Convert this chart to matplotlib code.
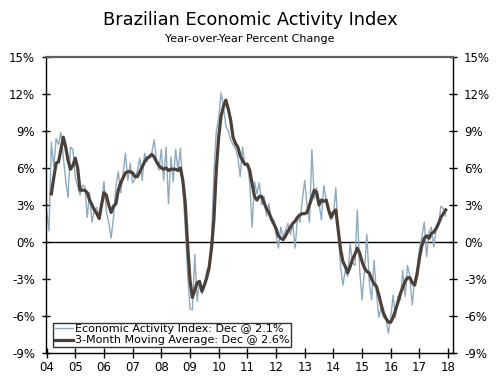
import matplotlib.pyplot as plt
import numpy as np

# monthly year-over-year % change, Jan 2004 .. Dec 2017 (one row per year)
activity = [
    2.6, 0.9, 8.1, 6.1, 8.4, 7.9, 8.9, 6.9, 5.0, 3.6, 7.7, 7.5,
    5.3, 4.5, 3.8, 4.6, 4.5, 2.0, 4.0, 1.6, 2.6, 2.8, 2.0, 3.2,
    4.9, 2.5, 1.6, 0.3, 2.0, 4.5, 5.7, 4.0, 5.5, 7.2, 5.0, 6.4,
    4.8, 5.1, 5.8, 6.8, 5.0, 7.2, 6.5, 7.0, 7.2, 8.3, 6.7, 5.8,
    7.5, 5.0, 7.7, 3.1, 6.9, 4.9, 7.5, 5.8, 7.6, 4.5, 1.2, -2.5,
    -5.4, -5.5, -1.0, -4.8, -3.1, -4.2, -3.6, -2.3, -2.0, 0.2, 5.6, 9.0,
    10.0, 12.1, 11.0, 9.4, 9.0, 8.3, 7.9, 7.6, 6.9, 5.3, 7.7, 6.2,
    6.4, 4.8, 1.2, 4.9, 3.9, 4.8, 3.0, 3.7, 2.1, 3.1, 1.8, 1.8,
    0.6, -0.5, 1.2, 0.4, 1.0, 1.5, 0.6, 1.4, -0.5, 2.1, 1.6, 3.4,
    5.0, 2.9, 1.6, 7.5, 3.5, 4.4, 3.1, 1.8, 4.6, 3.4, 2.9, 1.8,
    2.1, 4.4, 0.8, -2.0, -3.5, -2.3, -2.8, -0.1, -1.7, -1.9, 2.6, -2.3,
    -4.7, -2.3, 0.6, -3.2, -4.7, -1.5, -4.0, -6.1, -5.3, -6.1, -6.2, -7.4,
    -6.1, -4.3, -6.1, -4.4, -4.7, -2.3, -4.4, -1.9, -2.8, -5.1, -3.1, -2.3,
    -0.6, 0.4, 1.6, -1.2, 0.8, 1.2, -0.4, 1.0, 1.4, 2.9, 2.7, 2.1,
]

# 3-month moving average (starts Mar 2004)
moving_avg = [
    np.nan, np.nan, 3.9, 5.2, 6.4, 6.5, 7.5, 8.5, 7.7, 6.6, 5.9, 6.2,
    6.8, 6.0, 4.2, 4.2, 4.2, 4.0, 3.4, 3.0, 2.6, 2.3, 1.9, 3.0,
    4.0, 3.8, 3.0, 2.4, 2.9, 3.1, 4.2, 4.8, 5.2, 5.6, 5.7, 5.7,
    5.6, 5.3, 5.3, 5.7, 6.1, 6.5, 6.8, 6.9, 7.1, 6.9, 6.5, 6.2,
    6.0, 5.9, 6.0, 5.8, 5.9, 5.9, 5.9, 5.8, 6.0, 5.0, 3.2, -0.2,
    -3.1, -4.5, -3.9, -3.3, -3.2, -4.0, -3.5, -2.9, -2.1, -0.5, 1.8, 5.8,
    8.5, 10.2, 11.0, 11.5, 10.8, 9.9, 8.5, 8.0, 7.7, 7.0, 6.6, 6.3,
    6.3, 5.8, 4.7, 3.7, 3.4, 3.7, 3.7, 3.2, 2.7, 2.4, 1.9, 1.5,
    1.1, 0.5, 0.3, 0.2, 0.5, 0.9, 1.2, 1.5, 1.7, 2.0, 2.2, 2.3,
    2.3, 2.4, 3.0, 3.6, 4.2, 4.0, 3.0, 3.4, 3.3, 3.4, 2.6, 2.0,
    2.4, 2.6, 1.0, -0.6, -1.6, -2.0, -2.5, -2.0, -1.4, -1.0, -0.5, -0.9,
    -1.6, -2.1, -2.4, -2.5, -3.0, -3.4, -3.6, -4.3, -5.1, -5.8, -6.2, -6.5,
    -6.5, -6.1, -5.5, -4.9, -4.2, -3.7, -3.2, -2.9, -2.9, -3.3, -3.5, -2.6,
    -1.3, -0.3, 0.3, 0.5, 0.3, 0.7, 0.8, 1.1, 1.5, 2.0, 2.3, 2.6,
]

years = list(range(2004, 2019))
year_labels = ["%02d" % (y % 100) for y in years]
y_ticks = list(range(-9, 16, 3))

x = 2004 + np.arange(len(activity)) / 12.0

fig = plt.figure(figsize=(5, 3.76), dpi=100)
ax = fig.add_axes([0.092, 0.0612, 0.814, 0.7872])

ax.axhline(0, color="black", lw=1.0, zorder=1)
ax.plot(x, activity, color="#8eaabf", lw=1.0,
        label="Economic Activity Index: Dec @ 2.1%", zorder=2)
ax.plot(x, moving_avg, color="#4b4038", lw=2.3,
        label="3-Month Moving Average: Dec @ 2.6%", zorder=3)

ax.set_xlim(2003.98, 2018.17)
ax.set_ylim(-9, 15)
ax.set_xticks(years)
ax.set_xticklabels(year_labels)
ax.set_yticks(y_ticks)
ax.set_yticklabels(["%d%%" % v for v in y_ticks])

ax.tick_params(axis="x", direction="inout", length=7, width=1, labelsize=8.5, pad=2)
ax.tick_params(axis="y", direction="inout", length=6, width=1, labelsize=8.5,
               right=True, labelright=True, pad=5)

for side in ["left", "right", "bottom"]:
    ax.spines[side].set_color("black")
    ax.spines[side].set_linewidth(1.0)
ax.spines["top"].set_color("#606060")
ax.spines["top"].set_linewidth(1.6)

leg = ax.legend(loc="lower left", bbox_to_anchor=(0.018, 0.02), fontsize=8,
                frameon=True, fancybox=False, borderpad=0.15, labelspacing=0.1,
                handlelength=1.6, handletextpad=0.2, borderaxespad=0)
leg.get_frame().set_edgecolor("black")
leg.get_frame().set_linewidth(1.0)

fig.text(0.5, 0.947, "Brazilian Economic Activity Index", ha="center", va="center",
         fontsize=12.8)
fig.text(0.5, 0.897, "Year-over-Year Percent Change", ha="center", va="center",
         fontsize=8)

plt.savefig("out.png", dpi=100)
